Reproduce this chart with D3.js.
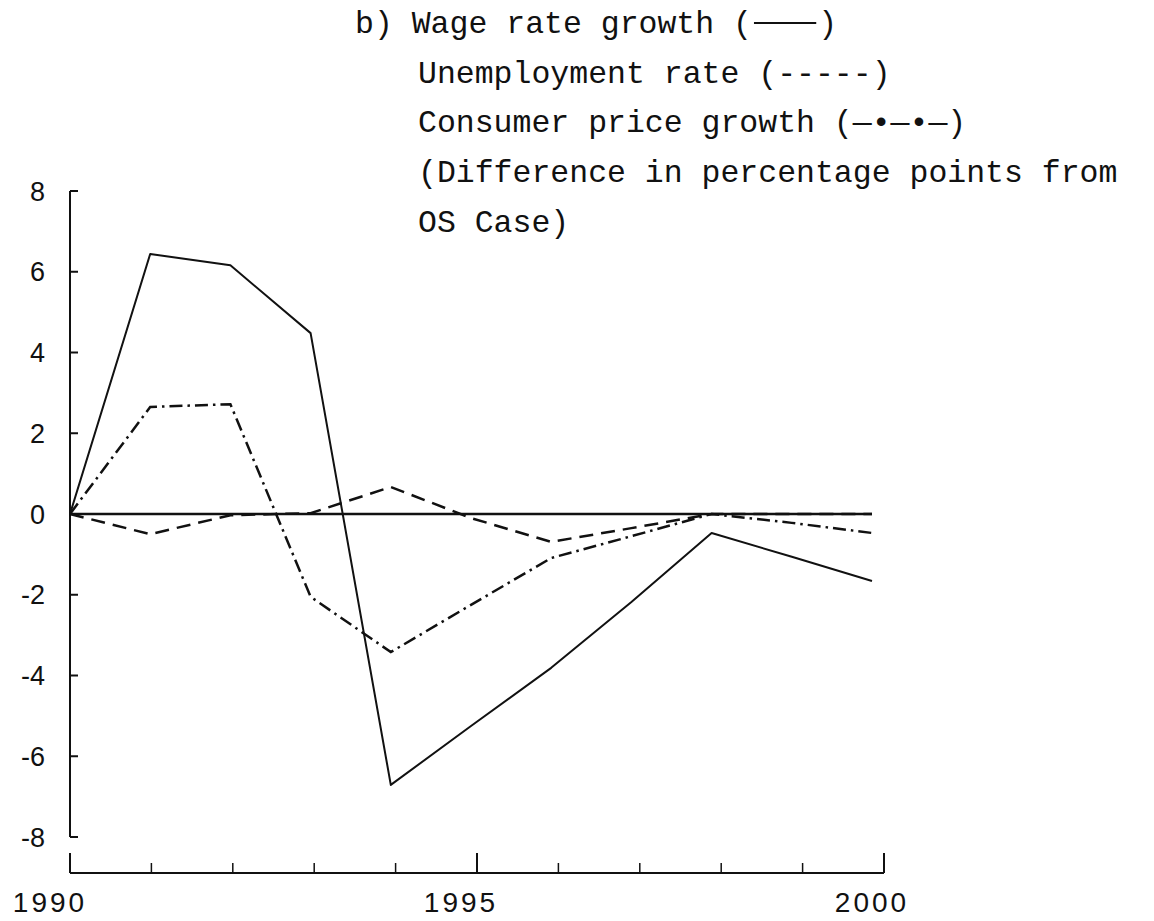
<!DOCTYPE html>
<html>
<head>
<meta charset="utf-8">
<script src="https://cdn.jsdelivr.net/npm/d3@7"></script>
<style>
  html, body { margin: 0; padding: 0; background: #fff; }
  svg { display: block; }
</style>
</head>
<body>
<svg id="chart" width="1154" height="921"></svg>
<script>
// ---- data ----
const years = [1990, 1991, 1992, 1993, 1994, 1995, 1996, 1997, 1998, 1999, 2000];
const wageGrowth   = [0, 6.44, 6.16, 4.48, -6.71, -5.25, -3.81, -2.18, -0.47, -1.06, -1.66];
const unemployment = [0, -0.50, -0.03, 0.02, 0.67, -0.10, -0.69, -0.35, 0, 0, 0];
const cpiGrowth    = [0, 2.65, 2.72, -2.05, -3.42, -2.25, -1.09, -0.55, 0, -0.22, -0.47];
const yTicks = [-8, -6, -4, -2, 0, 2, 4, 6, 8];
const xMajorTicks = [1990, 1995, 2000];
const xMinorTicks = [1991, 1992, 1993, 1994, 1996, 1997, 1998, 1999];
const titleLines = [
  "b) Wage rate growth (",
  "Unemployment rate (-----)",
  "Consumer price growth (\u2014\u2022\u2014\u2022\u2014)",
  "(Difference in percentage points from",
  "OS Case)"
];

const svg = d3.select("#chart");
const ink = "#111";

// scales
const xData = d3.scaleLinear().domain([1990, 2000]).range([70, 872]);
const xAxisScale = d3.scaleLinear().domain([1990, 2000]).range([70, 884]);
const xLabelScale = d3.scaleLinear().domain([1990, 2000]).range([50, 872]);
const y = d3.scaleLinear().domain([-8, 8]).range([837, 191]);

// ---- title block ----
const titleFont = "'Liberation Mono', 'Courier New', Courier, monospace";
const titleX = [355, 418, 418, 418, 418];
const titleY = [33, 83, 132, 182, 232];
const tg = svg.append("g");
titleLines.forEach((t, i) => {
  tg.append("text")
    .attr("x", titleX[i]).attr("y", titleY[i])
    .attr("font-family", titleFont).attr("font-size", 31.5)
    .attr("fill", ink)
    .attr("id", "title" + i)
    .text(t);
});
// solid legend sample for line 1
const t0 = document.getElementById("title0");
const t0end = titleX[0] + t0.getComputedTextLength();
const charW = t0.getComputedTextLength() / titleLines[0].length;
tg.append("line")
  .attr("x1", t0end + 2).attr("x2", t0end + charW * 3.4)
  .attr("y1", titleY[0] - 10).attr("y2", titleY[0] - 10)
  .attr("stroke", ink).attr("stroke-width", 2);
tg.append("text")
  .attr("x", t0end + charW * 3.5).attr("y", titleY[0])
  .attr("font-family", titleFont).attr("font-size", 31.5)
  .attr("fill", ink).text(")");

// ---- y axis ----
const ya = svg.append("g");
ya.append("line")
  .attr("x1", 70).attr("x2", 70)
  .attr("y1", y(8)).attr("y2", y(-8))
  .attr("stroke", ink).attr("stroke-width", 2);
ya.selectAll("line.tick").data(yTicks).enter().append("line")
  .attr("class", "tick")
  .attr("x1", 70).attr("x2", 78)
  .attr("y1", d => y(d)).attr("y2", d => y(d))
  .attr("stroke", ink).attr("stroke-width", 2);
ya.selectAll("text").data(yTicks).enter().append("text")
  .attr("x", 45).attr("y", d => y(d))
  .attr("dy", "0.36em")
  .attr("text-anchor", "end")
  .attr("font-family", "'Liberation Sans', Arial, sans-serif")
  .attr("font-size", 27)
  .attr("fill", ink)
  .text(d => d < 0 ? "-" + Math.abs(d) : String(d));

// ---- x axis (separate, below) ----
const axisY = 873;
const xa = svg.append("g");
xa.append("line")
  .attr("x1", xAxisScale(1990)).attr("x2", xAxisScale(2000))
  .attr("y1", axisY).attr("y2", axisY)
  .attr("stroke", ink).attr("stroke-width", 2);
xa.selectAll("line.major").data(xMajorTicks).enter().append("line")
  .attr("class", "major")
  .attr("x1", d => xAxisScale(d)).attr("x2", d => xAxisScale(d))
  .attr("y1", axisY).attr("y2", axisY - 20)
  .attr("stroke", ink).attr("stroke-width", 2);
xa.selectAll("line.minor").data(xMinorTicks).enter().append("line")
  .attr("class", "minor")
  .attr("x1", d => xAxisScale(d)).attr("x2", d => xAxisScale(d))
  .attr("y1", axisY).attr("y2", axisY - 10)
  .attr("stroke", ink).attr("stroke-width", 1.5);
xa.selectAll("text").data(xMajorTicks).enter().append("text")
  .attr("x", d => xLabelScale(d))
  .attr("y", 912)
  .attr("text-anchor", "middle")
  .attr("font-family", "'Liberation Sans', Arial, sans-serif")
  .attr("font-size", 28)
  .attr("letter-spacing", 3)
  .attr("fill", ink)
  .text(d => String(d));

// ---- zero line ----
svg.append("line")
  .attr("x1", xData(1990)).attr("x2", xData(2000))
  .attr("y1", y(0)).attr("y2", y(0))
  .attr("stroke", ink).attr("stroke-width", 2.5);

// ---- series ----
const line = d3.line().x((d, i) => xData(years[i])).y(d => y(d));
svg.append("path").datum(unemployment)
  .attr("d", line).attr("fill", "none")
  .attr("stroke", ink).attr("stroke-width", 2.5)
  .attr("stroke-dasharray", "14,8");
svg.append("path").datum(cpiGrowth)
  .attr("d", line).attr("fill", "none")
  .attr("stroke", ink).attr("stroke-width", 2.5)
  .attr("stroke-dasharray", "13,5,2.5,5");
svg.append("path").datum(wageGrowth)
  .attr("d", line).attr("fill", "none")
  .attr("stroke", ink).attr("stroke-width", 2)
  .attr("stroke-linejoin", "round");
</script>
</body>
</html>
